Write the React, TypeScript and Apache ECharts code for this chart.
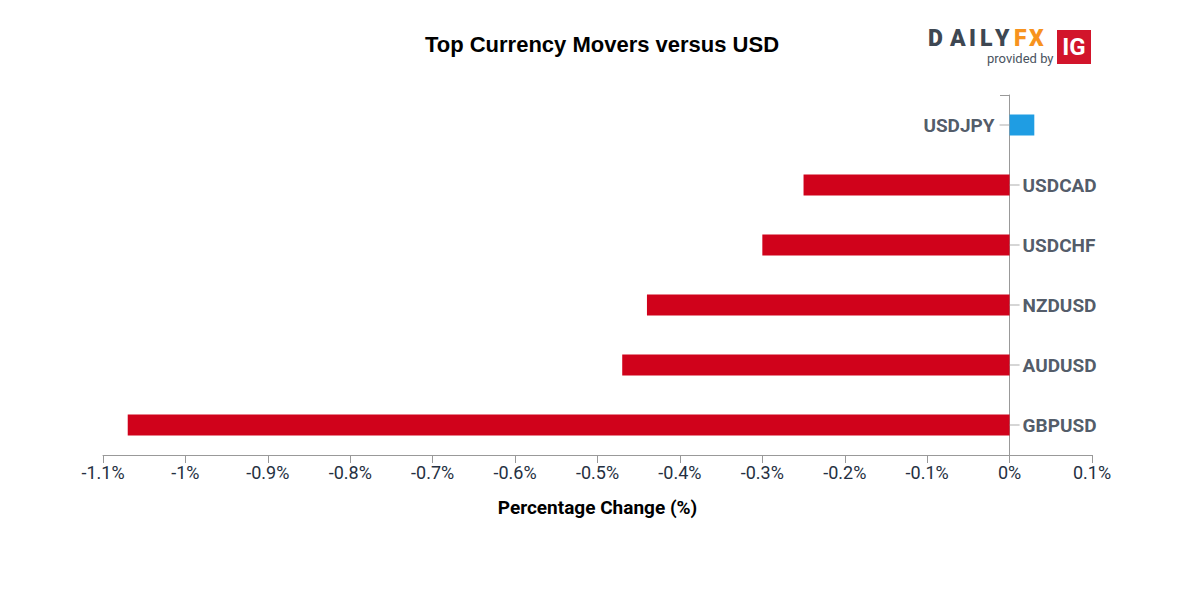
import React, { useEffect, useRef } from "react";
import * as echarts from "echarts";

const categories = ["USDJPY", "USDCAD", "USDCHF", "NZDUSD", "AUDUSD", "GBPUSD"];
const values = [0.03, -0.25, -0.3, -0.44, -0.47, -1.07];
const xTicks = { min: -1.1, max: 0.1, interval: 0.1 };

const POS = "#1f9de3";
const NEG = "#d0021b";
const TXT = "#253041";
const AX = "#999999";

export default function App() {
  const ref = useRef<HTMLDivElement>(null);
  useEffect(() => {
    document.body.style.margin = "0";
    const chart = echarts.init(ref.current!, null, { renderer: "svg" });
    const dailyLetters = [
      { t: "D", x: 928, c: "#3e4752" },
      { t: "A", x: 950, c: "#3e4752" },
      { t: "I", x: 969, c: "#3e4752" },
      { t: "L", x: 980, c: "#3e4752" },
      { t: "Y", x: 995, c: "#3e4752" },
      { t: "F", x: 1014, c: "#f7931e" },
      { t: "X", x: 1029, c: "#f7931e" },
    ];
    chart.setOption({
      animation: false,
      title: {
        text: "Top Currency Movers versus USD",
        left: 597,
        top: 28,
        textAlign: "center",
        textStyle: {
          fontFamily: "Liberation Sans",
          fontWeight: "bold",
          fontSize: 22,
          color: "#000",
        },
      },
      grid: { left: 103, right: 108, top: 95, bottom: 145 },
      xAxis: {
        type: "value",
        min: xTicks.min,
        max: xTicks.max,
        interval: xTicks.interval,
        name: "Percentage Change (%)",
        nameLocation: "middle",
        nameGap: 43,
        nameTextStyle: {
          fontFamily: "Roboto",
          fontWeight: "bold",
          fontSize: 19,
          color: "#000",
        },
        axisLine: { show: true, lineStyle: { color: AX, width: 1 } },
        axisTick: { show: true, length: 8, lineStyle: { color: AX } },
        splitLine: { show: false },
        axisLabel: {
          fontFamily: "Roboto",
          fontSize: 18,
          color: TXT,
          margin: 8,
          formatter: (v: number) => `${Math.round(v * 10) / 10}%`,
        },
      },
      yAxis: {
        type: "category",
        data: categories,
        inverse: true,
        axisLine: { show: true, onZero: true, lineStyle: { color: AX } },
        axisTick: { show: false },
        axisLabel: { show: false },
      },
      graphic: [
        {
          type: "line",
          shape: { x1: 1000, y1: 95.5, x2: 1010, y2: 95.5 },
          style: { stroke: AX, lineWidth: 1 },
        },
        ...dailyLetters.map((l) => ({
          type: "text",
          x: l.x,
          y: 30,
          style: {
            text: l.t,
            fill: l.c,
            fontFamily: "Roboto",
            fontWeight: 900,
            fontSize: 23,
            lineHeight: 17,
          },
        })),
        {
          type: "text",
          x: 987,
          y: 52,
          style: {
            text: "provided by",
            fill: "#4a5360",
            fontFamily: "Roboto",
            fontSize: 13,
            lineHeight: 13,
          },
        },
        {
          type: "rect",
          shape: { x: 1057, y: 30, width: 34, height: 34 },
          style: { fill: "#d2152b" },
        },
        {
          type: "text",
          x: 1074,
          y: 36,
          style: {
            text: "IG",
            fill: "#fff",
            fontFamily: "Roboto",
            fontWeight: "bold",
            fontSize: 24,
            lineHeight: 22,
            align: "center",
          },
        },
      ],
      series: [
        {
          type: "bar",
          barWidth: 21,
          data: values.map((v) => ({
            value: v,
            itemStyle: { color: v >= 0 ? POS : NEG },
          })),
        },
        {
          type: "scatter",
          symbol: "rect",
          symbolSize: [10, 1],
          itemStyle: { color: AX },
          z: 5,
          data: categories.map((c, i) => ({
            value: [0, c],
            symbolOffset: [values[i] >= 0 ? -5 : 5, 0],
            label: {
              show: true,
              position: values[i] >= 0 ? "left" : "right",
              distance: values[i] >= 0 ? 5 : 3,
              formatter: c,
              fontFamily: "Roboto",
              fontWeight: "bold",
              fontSize: 19,
              color: TXT,
            },
          })),
        },
      ],
    });
    return () => chart.dispose();
  }, []);
  return <div ref={ref} style={{ width: 1200, height: 600 }} />;
}
